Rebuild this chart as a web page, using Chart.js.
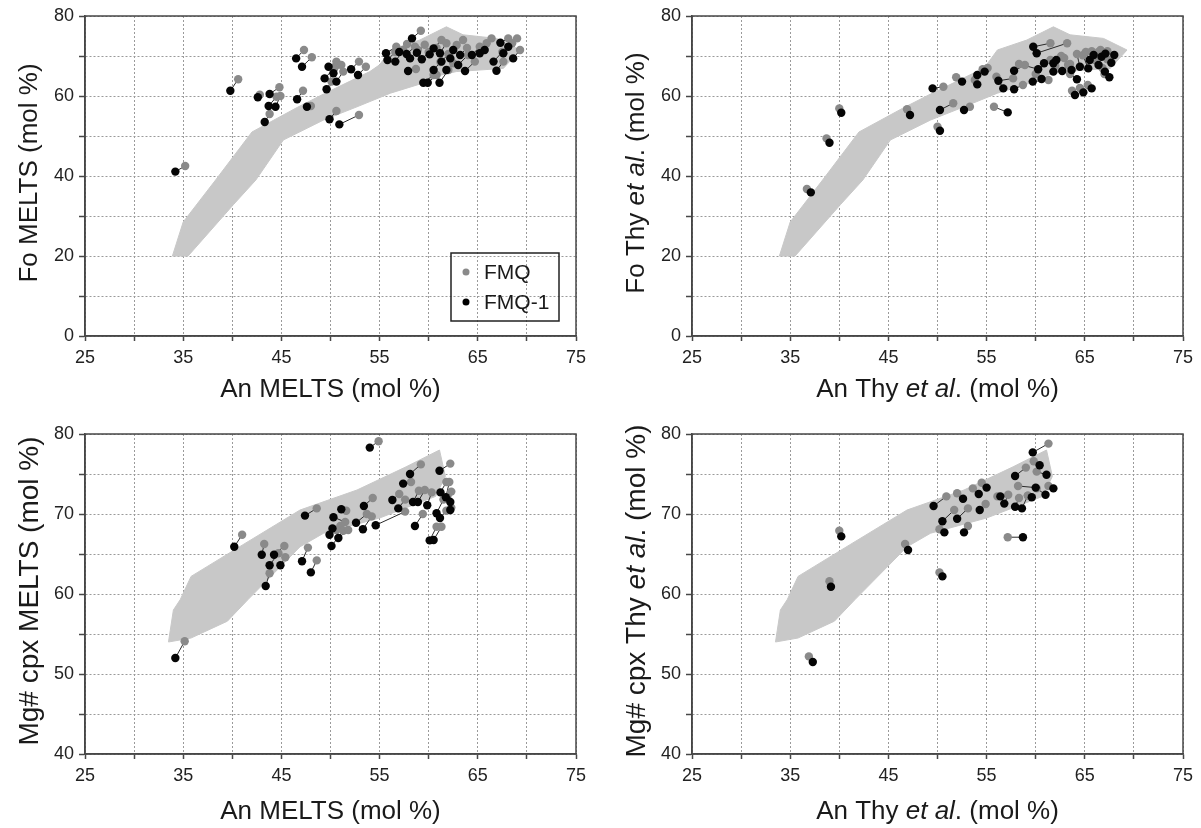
<!DOCTYPE html>
<html><head><meta charset="utf-8">
<script src="https://cdn.jsdelivr.net/npm/chart.js@4.4.1/dist/chart.umd.min.js"></script>
<style>
html,body{margin:0;padding:0;background:#fff;}
#wrap{position:relative;width:1201px;height:828px;overflow:hidden;background:#fff;}
canvas{position:absolute;}
</style></head><body>
<div id="wrap">
<canvas id="c1" width="600" height="414" style="left:0;top:0"></canvas>
<canvas id="c2" width="601" height="414" style="left:600px;top:0"></canvas>
<canvas id="c3" width="600" height="414" style="left:0;top:414px"></canvas>
<canvas id="c4" width="601" height="414" style="left:600px;top:414px"></canvas>
</div>
<script>
// ---------- data ----------
const seriesNames = ['FMQ', 'FMQ-1'];

// shaded field (Fo vs An)
const fieldFoAn = [33.9,35.0,38.3,42.0,46.5,49.3,54.0,55.0,56.1,59.1,61.8,63.5,66.9,69.3,67.6,62.8,61.2,59.4,56.1,52.7,49.3,45.2,42.4,40.1,35.5,33.9];
const fieldFoVal = [20,28.5,39,51,57,60.5,66.1,67.8,71.5,74,77.3,75.3,74.4,71.5,66.9,66.1,65.2,63.2,60.7,57.3,54,49,39,32.8,20,20];
// shaded field (Mg# cpx vs An)
const fieldMgAn = [33.5,34.0,34.7,35.8,41.0,46.9,52.7,57.7,61.1,61.7,60.7,55.0,49.3,46.9,41.6,39.5,35.8,33.5];
const fieldMgVal = [54.0,58.0,59.3,62.2,66.1,70.5,73.0,75.9,78.0,74.7,72.2,69.5,67.6,65.9,59.3,56.6,54.5,54.0];

// Panel 1: An MELTS vs Fo MELTS
const p1FmqAn = [35.2,40.6,42.8,44.8,44.5,44.9,43.8,47.3,48.1,47.2,48.0,50.6,52.9,50.1,50.4,50.6,51.1,51.3,52.9,53.6,59.2,56.7,56.6,57.4,58.6,58.9,60.0,58.7,61.3,60.8,61.8,62.0,62.85,63.5,63.9,61.2,62.5,64.0,64.7,65.2,65.9,66.4,60.5,60.8,62.0,68.1,69.0,67.5,67.6,69.3,68.5,57.8,59.6];
const p1FmqFo = [42.5,64.2,60.3,62.2,59.8,60.0,55.5,71.5,69.7,61.3,57.5,56.25,55.25,63.6,67.0,68.6,67.75,66.1,68.6,67.3,76.3,72.3,71.0,71.5,72.3,71.5,71.0,66.75,74.0,72.0,73.2,70.5,72.75,74.0,72.0,68.5,68.2,70.25,68.6,72.3,73.2,74.4,65.25,65.25,66.5,74.4,74.4,71.0,68.6,71.5,73.2,73.0,72.8];
const p1Fmq1An = [34.2,39.8,42.6,43.8,43.7,44.4,43.3,46.5,47.1,46.6,47.6,49.9,50.9,49.6,49.4,49.8,50.3,50.6,52.1,52.8,58.3,55.65,55.8,56.6,57.75,58.1,59.3,57.9,60.5,60.1,61.15,61.3,62.2,62.5,63.2,60.5,61.8,63.0,63.7,64.4,65.2,65.7,59.45,59.9,61.1,67.3,67.6,66.6,66.9,68.6,68.1,57.0,58.8];
const p1Fmq1Fo = [41.1,61.3,59.7,60.5,57.5,57.3,53.5,69.4,67.3,59.2,57.3,54.2,52.9,61.7,64.4,67.3,65.7,63.6,66.7,65.25,74.4,70.7,69.0,68.6,70.5,69.4,69.2,66.25,71.9,70.4,70.7,68.6,69.4,71.5,70.25,66.5,66.5,67.75,66.25,70.25,70.7,71.5,63.3,63.3,63.3,73.3,70.7,68.6,66.3,69.4,72.3,71.0,70.8];

// Panel 2: An Thy et al. vs Fo Thy et al.
const p2FmqAn = [36.7,38.7,40.0,46.9,50.0,50.6,51.6,53.3,51.9,54.6,53.8,55.1,55.75,57.7,56.0,58.7,58.9,61.3,58.3,61.5,63.2,60.0,61.5,62.9,62.0,63.3,62.6,63.5,63.5,63.7,64.5,65.3,64.2,64.8,65.1,65.7,66.0,66.4,66.8,67.0,67.3,67.3,66.6];
const p2FmqFo = [36.75,49.4,56.9,56.7,52.3,62.3,58.2,57.3,64.7,66.7,64.0,67.0,57.3,64.4,64.8,62.75,67.75,64.0,68.0,73.2,73.2,65.5,69.0,69.5,67.5,67.8,70.0,68.0,65.5,61.3,62.0,62.75,70.5,70.2,71.0,71.2,69.0,71.0,67.0,65.5,69.2,71.2,71.5];
const p2Fmq1An = [37.1,39.0,40.2,47.2,50.25,49.5,50.25,52.7,52.5,54.05,54.05,54.8,57.15,56.2,56.7,57.8,57.8,59.7,60.25,59.75,60.1,60.6,60.85,61.8,61.8,62.7,62.1,63.65,64.2,64.0,64.85,65.7,64.5,65.35,65.5,65.9,66.4,66.7,67.05,67.5,67.7,68.0,67.1];
const p2Fmq1Fo = [35.9,48.3,55.8,55.25,51.3,61.9,56.5,56.5,63.6,65.25,62.9,66.1,55.9,63.8,61.9,61.7,66.3,63.6,66.7,72.3,70.7,64.25,68.2,68.2,66.1,66.25,69.0,66.5,64.2,60.25,60.9,61.9,67.3,66.9,69.0,70.25,67.75,69.8,66.1,64.7,68.3,70.25,70.6];

// Panel 3: An MELTS vs Mg# cpx MELTS
const p3FmqAn = [35.15,41.0,43.25,44.7,43.8,45.3,45.4,48.6,47.7,48.6,54.9,51.6,51.5,51.0,50.6,51.3,51.8,53.7,54.2,54.3,57.6,57.0,57.6,58.2,59.2,59.0,59.6,59.4,60.3,60.8,61.3,61.5,61.8,62.2,61.8,62.1,62.3,62.3];
const p3FmqMg = [54.1,67.4,66.25,65.1,62.6,66.0,64.6,70.7,65.8,64.2,79.1,70.4,69.0,68.5,68.0,67.9,68.0,70.0,69.7,72.0,70.3,72.5,71.8,74.0,76.2,72.9,73.0,70.0,72.7,68.4,68.4,71.8,70.4,76.3,74.0,74.0,72.8,70.8];
const p3Fmq1An = [34.2,40.2,43.0,43.8,43.4,44.25,44.9,47.4,47.1,48.0,54.0,51.1,50.3,50.2,49.9,50.1,50.8,52.6,53.3,53.4,54.6,56.3,56.9,57.4,58.1,58.4,58.9,58.6,59.85,60.1,60.5,60.8,61.15,61.1,61.2,61.75,62.2,62.2];
const p3Fmq1Mg = [52.0,65.9,64.9,63.6,61.0,64.9,63.6,69.8,64.1,62.7,78.3,70.6,69.6,68.2,67.4,66.0,67.0,68.9,68.1,71.0,68.6,71.75,70.7,73.8,75.0,71.5,71.5,68.5,71.1,66.7,66.75,70.1,69.5,75.4,72.7,72.1,71.5,70.5];

// Panel 4: An Thy et al. vs Mg# cpx Thy et al.
const p4FmqAn = [36.9,39.0,40.0,46.7,50.2,50.9,51.7,50.2,53.1,52.0,53.1,53.6,54.5,54.9,57.15,56.1,57.2,59.0,58.3,59.2,61.3,59.8,60.1,58.2,59.2,60.1,61.3];
const p4FmqMg = [52.2,61.6,67.9,66.25,62.7,72.2,70.5,68.1,70.7,72.6,68.5,73.2,73.9,71.25,67.1,72.2,72.4,75.8,72.0,72.3,78.8,76.6,75.3,73.5,72.3,73.2,73.5];
const p4Fmq1An = [37.3,39.15,40.2,47.0,50.5,49.6,50.5,50.7,52.0,52.6,52.7,54.2,55.0,54.3,58.7,56.4,56.8,57.9,57.9,58.6,59.7,60.4,61.1,60.0,59.6,61.0,61.8];
const p4Fmq1Mg = [51.5,60.9,67.2,65.5,62.2,71.0,69.1,67.7,69.4,71.9,67.7,72.5,73.3,70.5,67.1,72.2,71.3,74.75,70.9,70.7,77.7,76.1,74.9,73.3,72.1,72.4,73.2];

// axis tick labels
const anTickLabels = [25,35,45,55,65,75];
const foTickLabels = [0,20,40,60,80];
const mgTickLabels = [40,50,60,70,80];

// ---------- drawing ----------
const FONT = "'Liberation Sans', Arial, Helvetica, sans-serif";

function drawSegs(ctx, segs, size, x, y) {
  let total = 0;
  const ws = segs.map(s => {
    ctx.font = (s[1] ? 'italic ' : '') + size + 'px ' + FONT;
    const w = ctx.measureText(s[0]).width; total += w; return w;
  });
  let cx = x - total / 2;
  segs.forEach((s, k) => {
    ctx.font = (s[1] ? 'italic ' : '') + size + 'px ' + FONT;
    ctx.fillText(s[0], cx, y);
    cx += ws[k];
  });
}

const framePlugin = {
  id: 'frame',
  afterDraw(chart, args, o) {
    const {ctx, chartArea: a} = chart;
    ctx.save();
    ctx.strokeStyle = '#474747';
    ctx.lineWidth = 1.5;
    ctx.strokeRect(a.left, a.top, a.right - a.left, a.bottom - a.top);
    ctx.fillStyle = '#1a1a1a';
    ctx.textAlign = 'left';
    ctx.textBaseline = 'alphabetic';
    drawSegs(ctx, o.xTitle, o.xSize, (a.left + a.right) / 2, a.bottom + o.xOff);
    ctx.save();
    ctx.translate(a.left - o.yOff, (a.top + a.bottom) / 2 - 3);
    ctx.rotate(-Math.PI / 2);
    ctx.textBaseline = 'middle';
    drawSegs(ctx, o.yTitle, o.ySize, 0, 0);
    ctx.restore();
    if (o.legend) {
      const L = o.legend;
      ctx.strokeStyle = '#222';
      ctx.lineWidth = 1.5;
      ctx.strokeRect(L.x, L.y, L.w, L.h);
      const items = [[seriesNames[0], '#8a8a8a'], [seriesNames[1], '#000']];
      items.forEach((it, k) => {
        const cy = L.y + 19 + k * 30;
        ctx.beginPath();
        ctx.fillStyle = it[1];
        ctx.arc(L.x + 15, cy, 3.5, 0, Math.PI * 2);
        ctx.fill();
        ctx.fillStyle = '#1a1a1a';
        ctx.font = '21px ' + FONT;
        ctx.textBaseline = 'middle';
        ctx.fillText(it[0], L.x + 33, cy + 1);
      });
    }
    ctx.restore();
  }
};

function pts(xs, ys) { return xs.map((x, i) => ({x: x, y: ys[i]})); }
function links(gx, gy, bx, by) {
  const out = [];
  gx.forEach((x, i) => { out.push({x: x, y: gy[i]}, {x: bx[i], y: by[i]}, {x: null, y: null}); });
  return out;
}

function makeChart(id, c) {
  const labelSetX = anTickLabels;
  const labelSetY = c.yLabels;
  new Chart(document.getElementById(id), {
    type: 'scatter',
    data: {
      datasets: [
        { data: pts(c.fx, c.fy), showLine: true, fill: 'shape', backgroundColor: '#c8c8c8',
          borderColor: '#c8c8c8', borderWidth: 1, pointRadius: 0, tension: 0, order: 10 },
        { data: links(c.gx, c.gy, c.bx, c.by), showLine: true, spanGaps: false, fill: false,
          borderColor: '#2b2b2b', borderWidth: 1, pointRadius: 0, order: 5 },
        { label: seriesNames[0], data: pts(c.gx, c.gy), pointRadius: 4.2, pointBackgroundColor: '#8a8a8a',
          pointBorderWidth: 0, backgroundColor: '#8a8a8a', order: 3 },
        { label: seriesNames[1], data: pts(c.bx, c.by), pointRadius: 4.2, pointBackgroundColor: '#050505',
          pointBorderWidth: 0, backgroundColor: '#050505', order: 2 }
      ]
    },
    options: {
      responsive: false, animation: false, devicePixelRatio: 1,
      layout: { padding: { left: 0, top: c.padTop, right: c.padRight, bottom: 0 } },
      plugins: { legend: { display: false }, tooltip: { enabled: false },
        frame: { xTitle: c.xTitle, yTitle: c.yTitle, xSize: 26, ySize: c.ySize, xOff: c.xOff, yOff: 55, legend: c.legend } },
      scales: {
        x: {
          type: 'linear', position: 'bottom', min: 25, max: 75,
          afterFit: s => { s.height = c.xH; },
          ticks: { stepSize: 5, autoSkip: false, maxRotation: 0, padding: 6, color: '#222',
            font: { size: 18, family: FONT },
            callback: v => labelSetX.includes(v) ? String(v) : '' },
          grid: { color: '#9a9a9a', lineWidth: 1, drawTicks: true, tickLength: 5, tickColor: '#474747', tickWidth: 1.5 },
          border: { display: true, color: '#474747', width: 1.5, dash: [2, 2] }
        },
        y: {
          type: 'linear', position: 'left', min: c.yMin, max: 80,
          afterFit: s => { s.width = c.yW; },
          ticks: { stepSize: c.yStep, autoSkip: false, padding: 5, color: '#222',
            font: { size: 18, family: FONT },
            callback: v => labelSetY.includes(v) ? String(v) : '' },
          grid: { color: '#9a9a9a', lineWidth: 1, drawTicks: true, tickLength: 6, tickColor: '#474747', tickWidth: 1.5 },
          border: { display: true, color: '#474747', width: 1.5, dash: [2, 2] }
        }
      }
    },
    plugins: [framePlugin]
  });
}

const MELTSx = [['An MELTS (mol %)', false]];
const THYx = [['An Thy ', false], ['et al', true], ['. (mol %)', false]];

makeChart('c1', { fx: fieldFoAn, fy: fieldFoVal, gx: p1FmqAn, gy: p1FmqFo, bx: p1Fmq1An, by: p1Fmq1Fo,
  yMin: 0, yStep: 10, yLabels: foTickLabels, yW: 85, xH: 78, padTop: 16, padRight: 24, xOff: 61,
  xTitle: MELTSx, yTitle: [['Fo MELTS (mol %)', false]], ySize: 26,
  legend: { x: 451, y: 253, w: 108, h: 68 } });
makeChart('c2', { fx: fieldFoAn, fy: fieldFoVal, gx: p2FmqAn, gy: p2FmqFo, bx: p2Fmq1An, by: p2Fmq1Fo,
  yMin: 0, yStep: 10, yLabels: foTickLabels, yW: 92, xH: 78, padTop: 16, padRight: 18, xOff: 61,
  xTitle: THYx, yTitle: [['Fo Thy ', false], ['et al', true], ['. (mol %)', false]], ySize: 26 });
makeChart('c3', { fx: fieldMgAn, fy: fieldMgVal, gx: p3FmqAn, gy: p3FmqMg, bx: p3Fmq1An, by: p3Fmq1Mg,
  yMin: 40, yStep: 5, yLabels: mgTickLabels, yW: 85, xH: 74, padTop: 20, padRight: 24, xOff: 65,
  xTitle: MELTSx, yTitle: [['Mg# cpx MELTS (mol %)', false]], ySize: 28 });
makeChart('c4', { fx: fieldMgAn, fy: fieldMgVal, gx: p4FmqAn, gy: p4FmqMg, bx: p4Fmq1An, by: p4Fmq1Mg,
  yMin: 40, yStep: 5, yLabels: mgTickLabels, yW: 92, xH: 74, padTop: 20, padRight: 18, xOff: 65,
  xTitle: THYx, yTitle: [['Mg# cpx Thy ', false], ['et al', true], ['. (mol %)', false]], ySize: 28 });
</script>
</body></html>
